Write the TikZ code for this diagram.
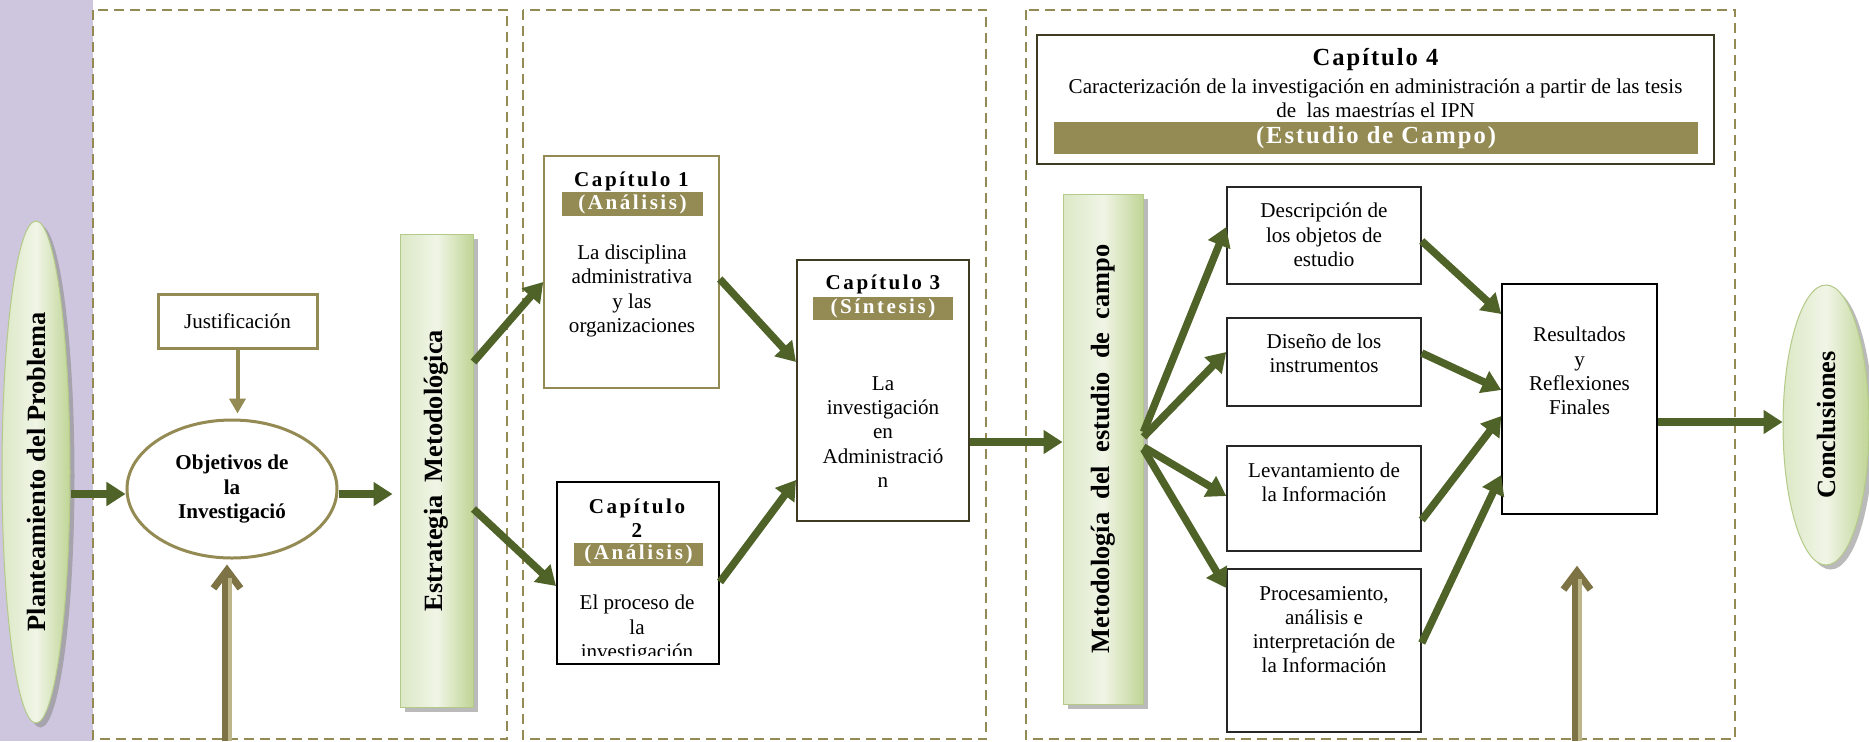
\documentclass[tikz,border=0pt]{standalone}
\usepackage{graphicx}
\usepackage{fontspec}
\setmainfont{Liberation Serif}
\newfontfamily\spacedfont[LetterSpace=12]{Liberation Serif}
\newfontfamily\widefont[LetterSpace=8]{Liberation Serif}
\usetikzlibrary{%
  arrows.meta,%
  shapes.geometric,% wg. ellipse
  shadows%
}

\definecolor{tanbar}{HTML}{948A54}
\definecolor{tanlight}{HTML}{BDB58A}
\definecolor{tandark}{HTML}{7D7345}
\definecolor{leafarrow}{HTML}{4F6228}
\definecolor{lilac}{HTML}{CDC6DE}
\definecolor{sagelight}{HTML}{F0F5E6}
\definecolor{sagemid}{HTML}{DCE8C6}
\definecolor{sagedark}{HTML}{C0D596}
\definecolor{sageline}{HTML}{B4CA88}
\definecolor{boxbrown}{HTML}{3F3B22}

\begin{document}
\begin{tikzpicture}
[x=0.2mm, y=-0.2mm,
every node/.style={font=\fontsize{12}{13.8}\selectfont, inner sep=0pt},
panel/.style={draw=tanbar, line width=0.4mm, dash pattern=on 2mm off 1.2mm, fill=white},
sagebox/.style={rectangle, draw=sageline, line width=0.2mm, left color=sagemid, right color=sagedark, middle color=sagelight, drop shadow={shadow xshift=0.9mm, shadow yshift=-0.9mm, fill=black!45, opacity=0.6}},
sageoval/.style={sagebox, ellipse},
chapbox/.style={rectangle, draw=black, line width=0.4mm, fill=white},
fieldbox/.style={rectangle, draw=black!85, line width=0.3mm, fill=white},
bandbox/.style={rectangle, fill=tanbar, text=white, font=\spacedfont\bfseries\fontsize{12}{13.8}\selectfont},
chaptitle/.style={align=center, font=\spacedfont\bfseries\fontsize{12}{13.8}\selectfont},
bodytext/.style={align=center},
growarrow/.style={draw=leafarrow, line width=1.5mm, -{Triangle[length=3.8mm, width=4.6mm]}},
thinarrow/.style={draw=tanbar, line width=0.8mm, -{Triangle[length=3mm, width=3.2mm]}},
liftarrow/.style={draw=tandark, line width=2mm, -{Straight Barb[length=3.6mm, width=5.4mm, line width=1.4mm]},
  postaction={draw=tanlight, line width=0.7mm, -, shorten >=2.6mm, transform canvas={xshift=0.6mm}}}]

\useasboundingbox (0,0) rectangle (1869,741);
\fill[white] (0,0) rectangle (1869,741);
\fill[lilac] (0,0) rectangle (93,741);

\draw[panel] (93,9.5) rectangle (507,739);
\draw[panel] (523,9.5) rectangle (986,739);
\draw[panel] (1026,9.5) rectangle (1735,739);

\node[sageoval, minimum width=13.6mm, minimum height=100.4mm] (plant) at (36,472) {\rotatebox{90}{\bfseries\fontsize{15}{18}\selectfont Planteamiento del Problema}};
\node[rectangle, draw=tanbar, line width=0.6mm, minimum width=31.8mm, minimum height=10.8mm] (just) at (237.5,321) {Justificación};
\node[ellipse, draw=tanbar, line width=0.6mm, fill=white, align=center, minimum width=42mm, minimum height=27.6mm, font=\bfseries\fontsize{12}{13.8}\selectfont] (obj) at (232,489) {Objetivos de\\la\\Investigació};
\node[sagebox, minimum width=14.6mm, minimum height=94.6mm] (estr) at (436.5,470.5) {\rotatebox{90}{\bfseries\fontsize{15}{18}\selectfont Estrategia\ \ Metodológica}};

\node[chapbox, draw=tanbar, line width=0.3mm, minimum width=35mm, minimum height=46.4mm] (cap1) at (631.5,272) {};
\node[chaptitle] (cap1title) at (631.5,181) {Capítulo 1};
\node[bandbox, minimum width=28.2mm, minimum height=4.8mm] (cap1band) at (632.5,204) {(Análisis)};
\node[bodytext] (cap1text) at (632,291) {La disciplina\\administrativa\\y las\\organizaciones};

\node[chapbox, minimum width=32.4mm, minimum height=36.4mm] (cap2) at (638,573) {};
\node[chaptitle] (cap2title) at (637,518.5) {Capítulo\\2};
\node[bandbox, minimum width=25.8mm, minimum height=4.6mm] (cap2band) at (638.5,554.5) {(Análisis)};
\begin{scope}
\clip (cap2.north west) rectangle (cap2.east |- 0,655);
\node[bodytext] (cap2text) at (637,629) {El proceso de\\la\\investigación};
\end{scope}

\node[chapbox, draw=boxbrown, minimum width=34.4mm, minimum height=52.2mm] (cap3) at (883,390.5) {};
\node[chaptitle] (cap3title) at (883,284) {Capítulo 3};
\node[bandbox, minimum width=28mm, minimum height=4.6mm] (cap3band) at (883,308.5) {(Síntesis)};
\node[bodytext, text depth=0pt] (cap3text) at (883,432) {La\\investigación\\en\\Administració\\n};

\node[chapbox, draw=boxbrown, minimum width=135.4mm, minimum height=25.8mm] (cap4) at (1375.5,99.5) {};
\node[font=\widefont\bfseries\fontsize{14}{16}\selectfont] (cap4title) at (1375.5,60) {Capítulo 4};
\node[bodytext] (cap4text) at (1375.5,98.5) {Caracterización de la investigación en administración a partir de las tesis\\de\ \ las maestrías el IPN};
\node[bandbox, font=\widefont\bfseries\fontsize{14}{16}\selectfont, minimum width=128.8mm, minimum height=6.4mm] (cap4band) at (1376,138) {(Estudio de Campo)};

\node[sagebox, minimum width=16mm, minimum height=102mm] (metod) at (1103,449) {\rotatebox{90}{\bfseries\fontsize{15}{18}\selectfont Metodología\ \ del\ \ estudio\ \ de\ \ campo}};

\node[fieldbox, minimum width=38.8mm, minimum height=19.4mm] (desc) at (1324,235.5) {};
\node[bodytext] (desctext) at (1324,235) {Descripción de\\los objetos de\\estudio};
\node[fieldbox, minimum width=38.8mm, minimum height=17.6mm] (dis) at (1324,362) {};
\node[bodytext] (distext) at (1324,353) {Diseño de los\\instrumentos};
\node[fieldbox, minimum width=38.8mm, minimum height=21mm] (lev) at (1324,498.5) {};
\node[bodytext] (levtext) at (1324,482) {Levantamiento de\\la Información};
\node[fieldbox, minimum width=38.8mm, minimum height=32.6mm] (proc) at (1324,650.5) {};
\node[bodytext] (proctext) at (1324,629.5) {Procesamiento,\\análisis e\\interpretación de\\la Información};

\node[fieldbox, draw=black, minimum width=31mm, minimum height=46mm] (res) at (1579.5,399) {};
\node[bodytext] (restext) at (1579.5,371) {Resultados\\y\\Reflexiones\\Finales};

\node[sageoval, minimum width=17.2mm, minimum height=56mm] (concl) at (1826,425) {\rotatebox{90}{\bfseries\fontsize{15}{18}\selectfont Conclusiones}};

\coordinate (objfoot) at (227,741);
\coordinate (resfoot) at (1577,741);

\draw[growarrow] (plant.east |- 0,494) -- (obj.west |- 0,494);
\draw[growarrow, shorten >=1.4mm] (obj.east |- 0,494) -- (estr.west |- 0,494);
\draw[growarrow] (estr.east |- 0,362) -- (cap1.west |- 0,282);
\draw[growarrow] (estr.east |- 0,509) -- (cap2.west |- 0,586);
\draw[growarrow] (cap1.east |- 0,279) -- (cap3.west |- 0,362);
\draw[growarrow] (cap2.east |- 0,582) -- (cap3.west |- 0,480);
\draw[growarrow] (cap3.east |- 0,442) -- (metod.west |- 0,442);
\draw[growarrow] (metod.east |- 0,432) -- (desc.west |- 0,227);
\draw[growarrow] (metod.east |- 0,437) -- (dis.west |- 0,352);
\draw[growarrow] (metod.east |- 0,447) -- (lev.west |- 0,496);
\draw[growarrow] (metod.east |- 0,449) -- (proc.west |- 0,588);
\draw[growarrow] (desc.east |- 0,241) -- (res.west |- 0,314);
\draw[growarrow] (dis.east |- 0,353) -- (res.west |- 0,390);
\draw[growarrow] (lev.east |- 0,520) -- (res.west |- 0,416);
\draw[growarrow] (proc.east |- 0,643) -- (res.west |- 0,475);
\draw[growarrow] (res.east |- 0,422) -- (concl.west |- 0,422);

\draw[thinarrow, shorten >=1mm] (just.south) -- (just.south |- obj.north);
\draw[liftarrow] (objfoot) -- ([yshift=-1mm]obj.south -| objfoot);
\draw[liftarrow] (resfoot) -- ([yshift=-10.2mm]res.south -| resfoot);

\end{tikzpicture}
\end{document}
